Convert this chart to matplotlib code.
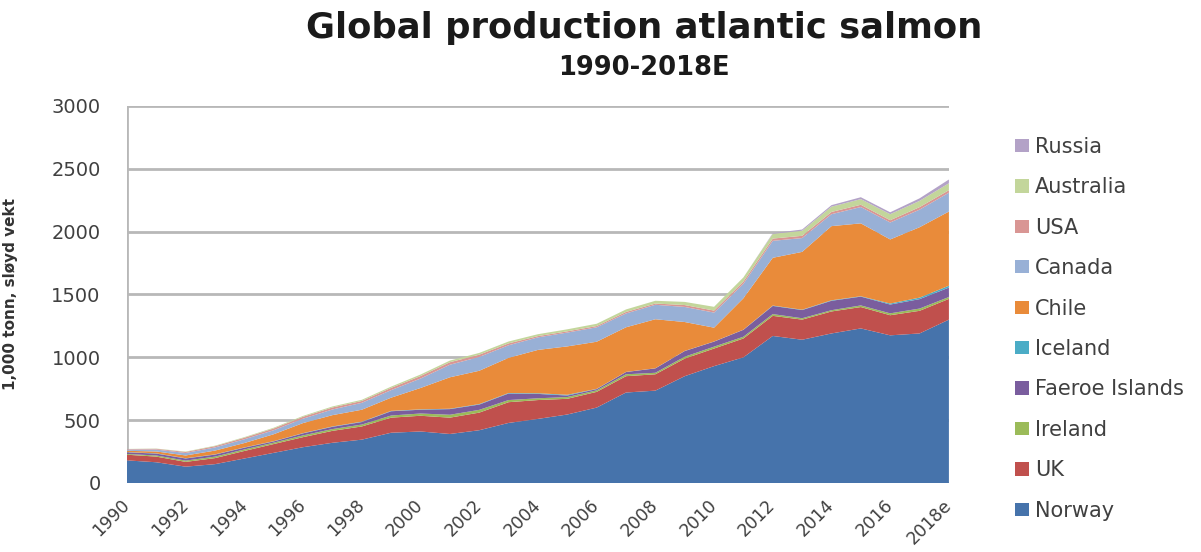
import matplotlib.pyplot as plt
import numpy as np

years = list(range(1990, 2019))
tick_labels = [str(y) for y in range(1990, 2018, 2)] + ["2018e"]

# 1,000 tonnes
norway = [180, 165, 130, 150, 195, 240, 285, 320, 345, 400, 410, 390, 420, 478, 510,
          545, 600, 720, 735, 850, 930, 1000, 1170, 1140, 1190, 1230, 1175, 1190, 1300]
uk = [45, 45, 38, 48, 60, 70, 80, 95, 105, 120, 125, 130, 140, 165, 150,
      125, 125, 130, 130, 140, 140, 150, 160, 160, 175, 170, 160, 180, 165]
ireland = [6, 9, 10, 12, 12, 11, 14, 14, 15, 17, 18, 23, 22, 17, 14,
           14, 12, 15, 12, 15, 15, 14, 14, 11, 10, 13, 15, 18, 15]
faeroe = [13, 15, 17, 16, 14, 10, 16, 18, 20, 34, 30, 45, 42, 52, 35,
          12, 10, 18, 35, 45, 40, 55, 65, 65, 75, 70, 70, 75, 75]
iceland = [2, 2, 2, 2, 2, 2, 2, 3, 3, 3, 3, 3, 4, 4, 5,
           6, 2, 1, 1, 1, 1, 1, 3, 3, 4, 3, 8, 12, 15]
chile = [10, 15, 22, 30, 35, 55, 80, 90, 95, 105, 170, 250, 265, 280, 345,
         385, 375, 355, 390, 230, 110, 250, 380, 460, 590, 580, 510, 560, 590]
canada = [10, 15, 20, 25, 30, 32, 35, 45, 55, 60, 75, 100, 110, 100, 100,
          110, 115, 110, 115, 120, 120, 115, 135, 110, 95, 130, 135, 140, 150]
usa = [4, 6, 8, 10, 12, 14, 15, 16, 15, 18, 20, 20, 18, 15, 10,
       10, 10, 12, 10, 15, 16, 18, 18, 18, 18, 18, 18, 20, 20]
australia = [1, 2, 3, 4, 5, 6, 7, 8, 9, 10, 12, 13, 14, 15, 15,
             16, 18, 20, 22, 25, 30, 33, 38, 40, 42, 45, 48, 50, 55]
russia = [0, 0, 0, 0, 0, 0, 0, 0, 0, 0, 0, 0, 0, 0, 0,
          0, 0, 0, 0, 0, 0, 0, 5, 10, 12, 15, 15, 20, 30]

series = [norway, uk, ireland, faeroe, iceland, chile, canada, usa, australia, russia]
names = ["Norway", "UK", "Ireland", "Faeroe Islands", "Iceland", "Chile",
         "Canada", "USA", "Australia", "Russia"]
colors = ["#4673ab", "#c0504d", "#9bbb59", "#7a5d9e", "#4bacc6", "#e98b3a",
          "#98b0d6", "#d99694", "#c3d69b", "#b3a2c7"]

plt.rcParams['font.family'] = ['DejaVu Sans']

fig = plt.figure(figsize=(12.01, 5.52), dpi=100)
ax = fig.add_axes([0.1057, 0.125, 0.6844, 0.683])

ax.stackplot(years, *series, colors=colors, labels=names, linewidth=0)

ax.set_xlim(1990, 2018)
ax.set_ylim(0, 3000)
ax.set_yticks(range(0, 3001, 500))
ax.set_xticks(list(range(1990, 2018, 2)) + [2018])
ax.set_xticklabels(tick_labels, rotation=45, ha='right', va='center',
                   rotation_mode='anchor', fontsize=12.5, color='#404040')
ax.tick_params(axis='y', labelsize=14, colors='#404040', length=0, pad=19)
ax.tick_params(axis='x', length=0, pad=14)
ax.grid(axis='y', color='#b8b8b8', linewidth=2)
ax.set_axisbelow(True)
for s in ['top', 'right', 'left', 'bottom']:
    ax.spines[s].set_visible(False)
ax.axvline(1990, color='#b8b8b8', linewidth=2, zorder=0)

ax.set_ylabel("1,000 tonn, sløyd vekt", fontsize=11, fontweight='bold',
              color='#333333')
ax.yaxis.set_label_coords(-0.1323, 0.5)

fig.text(0.536, 0.950, "Global production atlantic salmon", ha='center', va='center',
         fontsize=25.5, fontweight='bold', color='#1a1a1a')
fig.text(0.536, 0.876, "1990-2018E", ha='center', va='center',
         fontsize=18.5, fontweight='bold', color='#1a1a1a')

handles, labels = ax.get_legend_handles_labels()
fig.legend(handles[::-1], labels[::-1], loc='upper left', bbox_to_anchor=(0.845, 0.752),
           frameon=False, fontsize=15, labelspacing=0.98, handlelength=0.7,
           handleheight=0.6, handletextpad=0.25, borderpad=0, borderaxespad=0,
           labelcolor='#404040')

fig.savefig("out.png", dpi=100)
